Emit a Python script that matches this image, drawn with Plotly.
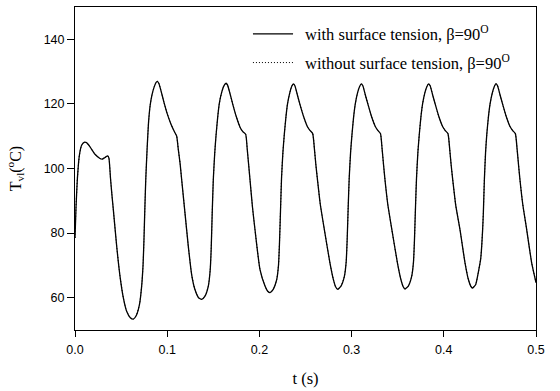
import plotly.graph_objects as go

# time (s)
t = [
    0.0000, 0.0011, 0.0025, 0.0047, 0.0072, 0.0100, 0.0125, 0.0163, 0.0217, 0.0271,
    0.0296, 0.0325, 0.0355, 0.0368, 0.0385, 0.0400, 0.0415, 0.0452, 0.0488, 0.0524,
    0.0560, 0.0600, 0.0633,
    0.0665, 0.0700, 0.0723, 0.0738, 0.0748, 0.0758, 0.0768, 0.0782, 0.0797, 0.0815,
    0.0835, 0.0858, 0.0878, 0.0893, 0.0910, 0.0935, 0.0965, 0.1000, 0.1040, 0.1080,
    0.1103, 0.1120, 0.1140, 0.1157, 0.1193, 0.1229, 0.1266, 0.1300, 0.1340, 0.1374,
    0.1410, 0.1446, 0.1466, 0.1477, 0.1488, 0.1500, 0.1515, 0.1529, 0.1548, 0.1565,
    0.1590, 0.1615, 0.1638, 0.1655, 0.1680, 0.1712, 0.1750, 0.1790, 0.1820, 0.1851,
    0.1868, 0.1884, 0.1898, 0.1925, 0.1952, 0.2006, 0.2061, 0.2090, 0.2115,
    0.2150, 0.2187, 0.2207, 0.2218, 0.2229, 0.2240, 0.2255, 0.2270, 0.2288, 0.2305,
    0.2330, 0.2350, 0.2368, 0.2385, 0.2410, 0.2442, 0.2480, 0.2520, 0.2548, 0.2578,
    0.2597, 0.2613, 0.2630, 0.2660, 0.2705, 0.2765, 0.2802, 0.2828, 0.2849,
    0.2885, 0.2921, 0.2941, 0.2952, 0.2963, 0.2974, 0.2989, 0.3004, 0.3022, 0.3040,
    0.3065, 0.3087, 0.3105, 0.3122, 0.3147, 0.3180, 0.3217, 0.3257, 0.3284, 0.3313,
    0.3331, 0.3347, 0.3362, 0.3392, 0.3437, 0.3497, 0.3534, 0.3560, 0.3579,
    0.3615, 0.3651, 0.3671, 0.3682, 0.3693, 0.3704, 0.3719, 0.3734, 0.3752, 0.3770,
    0.3795, 0.3817, 0.3835, 0.3852, 0.3877, 0.3910, 0.3947, 0.3987, 0.4014, 0.4045,
    0.4064, 0.4080, 0.4097, 0.4130, 0.4176, 0.4230, 0.4266, 0.4292, 0.4310,
    0.4345, 0.4374, 0.4400, 0.4411, 0.4421, 0.4429, 0.4440, 0.4453, 0.4466, 0.4484,
    0.4502, 0.4527, 0.4548, 0.4566, 0.4583, 0.4608, 0.4641, 0.4678, 0.4718, 0.4745,
    0.4776, 0.4795, 0.4811, 0.4826, 0.4856, 0.4899, 0.4953, 0.5000,
]

# vapour/liquid interface temperature, with surface tension (°C)
T_with = [
    78.5, 88.0, 96.5, 104.0, 107.2, 108.1, 108.0, 106.7, 104.4, 103.1,
    102.9, 103.4, 103.9, 103.2, 97.0, 92.0, 87.5, 76.0, 66.7, 60.0,
    55.8, 53.8, 53.4,
    54.5, 58.0, 63.6, 70.0, 78.0, 88.0, 97.0, 106.0, 114.0, 119.5,
    122.8, 125.2, 126.6, 127.0, 126.3, 123.8, 120.5, 117.0, 113.8, 111.3,
    110.0, 106.0, 101.5, 96.5, 86.2, 75.9, 67.0, 62.6, 60.0, 59.5,
    60.5, 63.6, 68.5, 75.0, 86.0, 96.5, 104.5, 110.0, 116.0, 120.1,
    123.5, 125.6, 126.4, 125.8, 123.3, 119.8, 116.0, 112.8, 111.4, 110.6,
    106.0, 101.0, 96.5, 88.0, 81.1, 68.8, 63.6, 62.0, 61.6,
    62.6, 65.5, 70.0, 77.0, 87.0, 97.0, 105.0, 110.5, 116.0, 120.0,
    123.5, 125.4, 126.2, 125.6, 123.0, 119.6, 116.0, 113.0, 111.8, 110.8,
    106.0, 101.0, 96.5, 89.0, 81.0, 70.8, 65.7, 63.3, 62.6,
    63.6, 66.5, 71.0, 78.0, 88.0, 97.0, 105.0, 110.5, 116.0, 120.0,
    123.5, 125.4, 126.2, 125.6, 123.0, 119.6, 116.0, 113.0, 111.8, 110.8,
    106.0, 101.0, 96.5, 89.0, 81.0, 70.8, 65.7, 63.4, 62.7,
    63.6, 66.5, 71.0, 78.0, 88.0, 97.0, 105.0, 110.5, 116.0, 120.0,
    123.5, 125.4, 126.2, 125.6, 123.0, 119.6, 116.0, 113.0, 111.8, 110.8,
    106.0, 101.0, 96.5, 88.5, 81.0, 70.8, 65.7, 63.6, 63.0,
    64.0, 67.8, 72.0, 75.9, 81.0, 86.2, 96.5, 105.0, 110.5, 116.0,
    120.0, 123.5, 125.4, 126.3, 125.6, 123.0, 119.6, 116.0, 113.0, 111.8,
    110.8, 106.0, 101.0, 96.5, 89.0, 81.1, 70.8, 64.7,
]

# without surface tension: indistinguishable from the case above at this scale
T_without = list(T_with)

x_ticks = [0.0, 0.1, 0.2, 0.3, 0.4, 0.5]
x_ticklabels = ["0.0", "0.1", "0.2", "0.3", "0.4", "0.5"]
y_ticks = [60, 80, 100, 120, 140]

legend_labels = [
    "with surface tension, β=90<sup>O</sup>",
    "without surface tension, β=90<sup>O</sup>",
]

SERIF = "Liberation Serif"
SANS = "Liberation Sans"

fig = go.Figure()
fig.add_trace(go.Scatter(
    x=t, y=T_with, mode="lines", name=legend_labels[0],
    line=dict(color="black", width=1.3, shape="spline", smoothing=0.5),
))
fig.add_trace(go.Scatter(
    x=t, y=T_without, mode="lines", name=legend_labels[1],
    line=dict(color="black", width=1, dash="1px,2px", shape="spline", smoothing=0.5),
))

# hand-drawn legend (long line samples as in the original)
leg_y = [0.917, 0.828]
leg_dash = ["solid", "1px,2px"]
for yy, dsh, lab in zip(leg_y, leg_dash, legend_labels):
    fig.add_shape(type="line", xref="paper", yref="paper",
                  x0=0.386, x1=0.473, y0=yy, y1=yy,
                  line=dict(color="black", width=1.2 if dsh == "solid" else 1, dash=dsh))
    fig.add_annotation(xref="paper", yref="paper", x=0.494, y=yy,
                       xanchor="left", yanchor="middle", showarrow=False,
                       text=lab, font=dict(family=SERIF, size=16.5, color="black"))

fig.update_layout(
    width=560, height=391,
    margin=dict(l=75, r=24, t=6, b=60),
    paper_bgcolor="white", plot_bgcolor="white",
    showlegend=False,
    xaxis=dict(
        range=[0, 0.5], tickvals=x_ticks, ticktext=x_ticklabels,
        showgrid=False, zeroline=False, showline=True, linecolor="black", linewidth=1,
        mirror=True, ticks="outside", ticklen=6, tickcolor="black", ticklabelstandoff=2,
        tickfont=dict(family=SANS, size=12.5, color="black"),
        title=dict(text="t (s)", font=dict(family=SERIF, size=16.5, color="black"), standoff=16),
    ),
    yaxis=dict(
        range=[50, 150], tickvals=y_ticks,
        showgrid=False, zeroline=False, showline=True, linecolor="black", linewidth=1,
        mirror=True, ticks="outside", ticklen=7, tickcolor="black",
        tickfont=dict(family=SANS, size=12.5, color="black"),
        title=dict(text="T<sub>vl</sub>(<sup>o</sup>C)", font=dict(family=SERIF, size=16, color="black"), standoff=18),
    ),
)

fig.write_html("out.html")
